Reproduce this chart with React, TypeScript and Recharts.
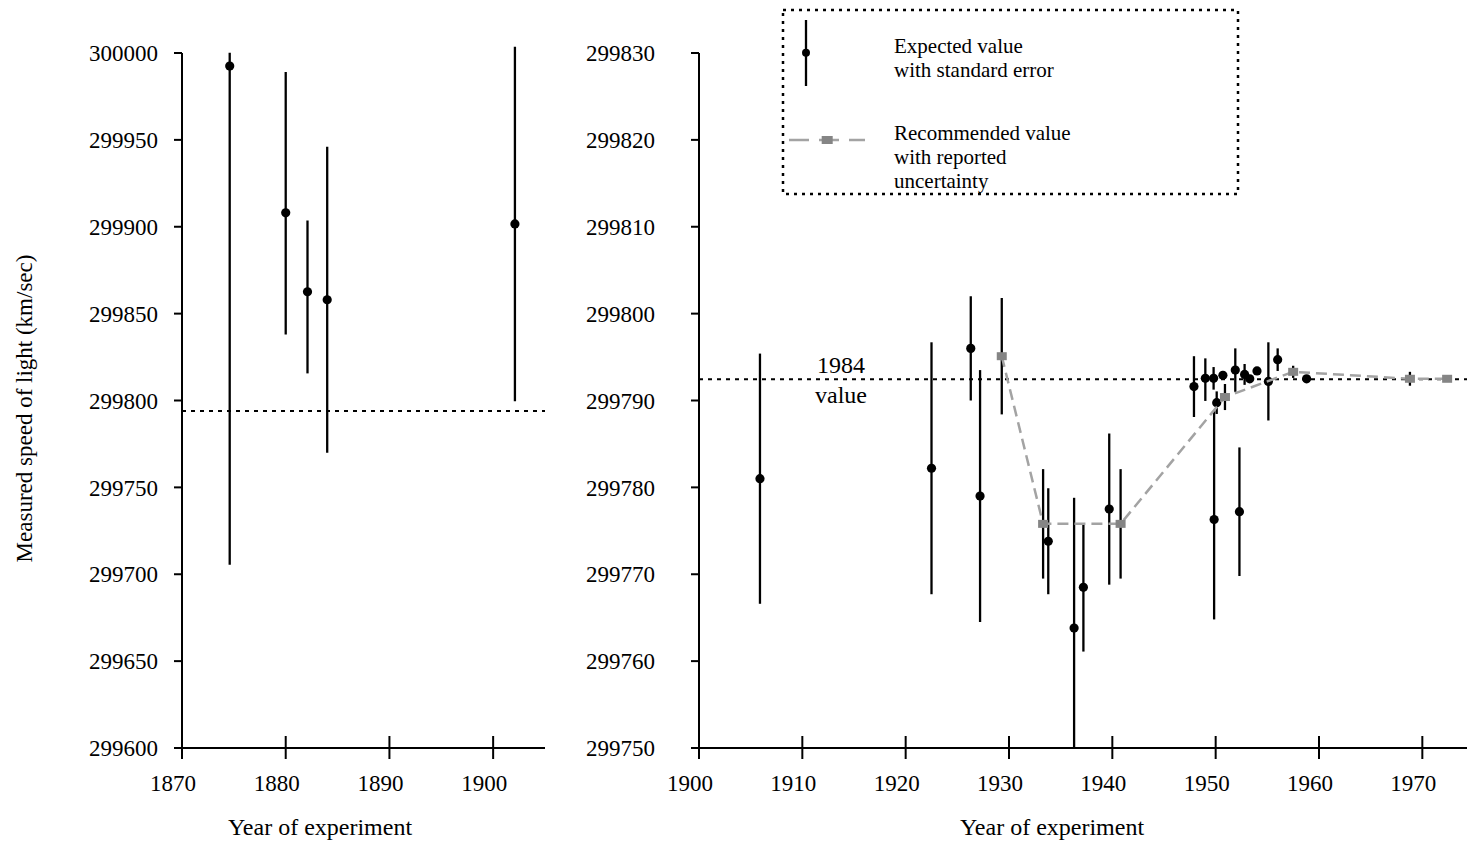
import React from 'react';
import { ScatterChart, Scatter, XAxis, YAxis, ErrorBar, ReferenceLine } from 'recharts';

const FONT = '"Liberation Serif", "Times New Roman", Times, serif';

// ---------- Left panel (1870-1905) ----------
const earlyYears = [1874.6, 1880.0, 1882.1, 1884.0, 1902.1];
const earlyValues = [299992.5, 299908, 299862.6, 299858, 299901.6];
const earlyErrLow = [287, 70, 47, 88, 102];
const earlyErrHigh = [7.7, 81, 41, 88, 102];
const earlyTicksX = [1870, 1880, 1890, 1900];
const earlyTicksY = [299600, 299650, 299700, 299750, 299800, 299850, 299900, 299950, 300000];
const earlyRef = 299794;

// ---------- Right panel (1900-1975) : expected values with standard error ----------
const laterYears = [1905.9, 1922.5, 1926.3, 1927.2, 1933.8, 1936.3, 1937.2, 1939.7, 1947.9, 1949.0, 1949.8, 1949.85, 1950.1, 1950.7, 1951.9, 1952.3, 1952.8, 1953.3, 1954.0, 1955.1, 1956.0, 1958.8];
const laterValues = [299781.0, 299782.2, 299796.0, 299779.0, 299773.8, 299763.8, 299768.5, 299777.5, 299791.6, 299792.55, 299792.55, 299776.3, 299789.75, 299792.9, 299793.5, 299777.2, 299793.0, 299792.5, 299793.4, 299792.2, 299794.7, 299792.5];
const laterErrLow = [14.4, 14.5, 6, 14.5, 6.1, 13.8, 7.4, 8.7, 3.5, 2.6, 1.3, 11.5, 1.3, 0.5, 2.5, 7.4, 1.2, 0.3, 0.3, 4.5, 1.3, 0.3];
const laterErrHigh = [14.4, 14.5, 6, 14.5, 6.1, 15, 7.4, 8.7, 3.5, 2.3, 1.3, 12.5, 1.3, 0.5, 2.5, 7.4, 1.2, 0.3, 0.3, 4.5, 1.3, 0.3];

// ---------- Right panel : recommended values with reported uncertainty ----------
const recYears = [1929.3, 1933.3, 1940.8, 1950.9, 1957.5, 1968.8, 1972.4];
const recValues = [299795.1, 299775.8, 299775.8, 299790.4, 299793.3, 299792.5, 299792.5];
const recErr = [6.7, 6.3, 6.3, 1.5, 0.7, 0.8, 0.2];

const laterTicksX = [1900, 1910, 1920, 1930, 1940, 1950, 1960, 1970];
const laterTicksY = [299750, 299760, 299770, 299780, 299790, 299800, 299810, 299820, 299830];
const value1984 = 299792.458;

const earlyData = earlyYears.map((x, i) => ({ x, y: earlyValues[i], err: [earlyErrLow[i], earlyErrHigh[i]] }));
const laterData = laterYears.map((x, i) => ({ x, y: laterValues[i], err: [laterErrLow[i], laterErrHigh[i]] }));
const recData = recYears.map((x, i) => ({ x, y: recValues[i], err: recErr[i] }));

const blackDot = (p: any) => <circle cx={p.cx} cy={p.cy} r={4.6} fill="#000" />;
const graySquare = (p: any) => <rect x={p.cx - 5} y={p.cy - 4} width={10} height={8} fill="#858585" />;

const CrossTick = (p: any) => {
  const { x, y, payload } = p;
  return (
    <g>
      <line x1={x} x2={x} y1={y - 12} y2={y + 11} stroke="#000" strokeWidth={2} />
      <text x={x - 9} y={y + 43} textAnchor="middle" fill="#000" fontSize={23} fontFamily={FONT}>
        {payload.value}
      </text>
    </g>
  );
};

const xTitle = (dx: number) => (p: any) => {
  const vb = p.viewBox || {};
  return (
    <text x={vb.x + dx} y={vb.y + 87} textAnchor="middle" fill="#000" fontSize={24} fontFamily={FONT}>
      Year of experiment
    </text>
  );
};

const yTitle = (p: any) => {
  const vb = p.viewBox || {};
  const cx = (vb.x || 0) + 16;
  const cy = vb.y + vb.height / 2 + 8;
  return (
    <text x={cx} y={cy} transform={`rotate(-90 ${cx} ${cy})`} textAnchor="middle" dominantBaseline="central" fill="#000" fontSize={23} fontFamily={FONT}>
      Measured speed of light (km/sec)
    </text>
  );
};

const label1984 = (p: any) => {
  const vb = p.viewBox || {};
  const x = vb.x + 142;
  return (
    <g>
      <text x={x} y={vb.y - 6} textAnchor="middle" fill="#000" fontSize={24} fontFamily={FONT}>1984</text>
      <text x={x} y={vb.y + 24} textAnchor="middle" fill="#000" fontSize={24} fontFamily={FONT}>value</text>
    </g>
  );
};

const axisStyle = { stroke: '#000', strokeWidth: 2 };
const tickStyle = { fill: '#000', fontSize: 23, fontFamily: FONT };

export default function App() {
  return (
    <div style={{ position: 'fixed', left: 0, top: 0, width: 1467, height: 847, overflow: 'hidden', background: '#fff' }}>
      <div style={{ position: 'absolute', left: 8, top: 8 }}>
        <ScatterChart width={560} height={839} margin={{ top: 45, right: 23, bottom: 39, left: 0 }}>
          <XAxis
            type="number"
            dataKey="x"
            domain={[1870, 1905]}
            ticks={earlyTicksX}
            allowDataOverflow
            axisLine={axisStyle}
            tickLine={false}
            tickSize={0}
            tickMargin={0}
            height={60}
            tick={<CrossTick />}
            interval={0}
            label={xTitle(138)}
          />
          <YAxis
            type="number"
            dataKey="y"
            domain={[299600, 300000]}
            ticks={earlyTicksY}
            allowDataOverflow
            width={174}
            axisLine={axisStyle}
            tickLine={axisStyle}
            tickSize={8}
            tickMargin={16}
            tick={tickStyle}
            interval={0}
            label={yTitle}
          />
          <ReferenceLine y={earlyRef} stroke="#000" strokeWidth={2} strokeDasharray="4 5" />
          <Scatter data={earlyData} shape={blackDot} isAnimationActive={false}>
            <ErrorBar dataKey="err" direction="y" width={0} stroke="#000" strokeWidth={2.3} />
          </Scatter>
        </ScatterChart>
      </div>
      <div style={{ position: 'absolute', left: 568, top: 8 }}>
        <ScatterChart width={906} height={839} margin={{ top: 45, right: 0, bottom: 39, left: 0 }}>
          <XAxis
            type="number"
            dataKey="x"
            domain={[1900, 1975]}
            ticks={laterTicksX}
            allowDataOverflow
            axisLine={axisStyle}
            tickLine={false}
            tickSize={0}
            tickMargin={0}
            height={60}
            tick={<CrossTick />}
            interval={0}
            label={xTitle(353)}
          />
          <YAxis
            type="number"
            dataKey="y"
            domain={[299750, 299830]}
            ticks={laterTicksY}
            allowDataOverflow
            width={131}
            axisLine={axisStyle}
            tickLine={axisStyle}
            tickSize={8}
            tickMargin={36}
            tick={tickStyle}
            interval={0}
          />
          <ReferenceLine y={value1984} stroke="#000" strokeWidth={2} strokeDasharray="4 5" label={label1984} />
          <Scatter data={laterData} shape={blackDot} isAnimationActive={false}>
            <ErrorBar dataKey="err" direction="y" width={0} stroke="#000" strokeWidth={2.3} />
          </Scatter>
          <Scatter
            data={recData}
            shape={graySquare}
            line={{ stroke: '#a3a3a3', strokeWidth: 2.5, strokeDasharray: '11 6' }}
            lineType="joint"
            isAnimationActive={false}
          >
            <ErrorBar dataKey="err" direction="y" width={0} stroke="#000" strokeWidth={2.3} />
          </Scatter>
        </ScatterChart>
      </div>
      <svg width={1467} height={847} style={{ position: 'absolute', left: 0, top: 0, pointerEvents: 'none' }}>
        <rect x={783} y={10} width={455} height={184} fill="none" stroke="#000" strokeWidth={2.5} strokeDasharray="3 5" />
        <line x1={806} x2={806} y1={20} y2={86} stroke="#000" strokeWidth={2.3} />
        <circle cx={806} cy={52.7} r={4} fill="#000" />
        <text x={894} y={53} fill="#000" fontSize={21} fontFamily={FONT}>Expected value</text>
        <text x={894} y={77} fill="#000" fontSize={21} fontFamily={FONT}>with standard error</text>
        <line x1={789} x2={865} y1={140} y2={140} stroke="#a3a3a3" strokeWidth={2.5} strokeDasharray="20 10" />
        <rect x={821.7} y={136} width={11} height={8} fill="#858585" />
        <text x={894} y={139.5} fill="#000" fontSize={21} fontFamily={FONT}>Recommended value</text>
        <text x={894} y={163.5} fill="#000" fontSize={21} fontFamily={FONT}>with reported</text>
        <text x={894} y={187.5} fill="#000" fontSize={21} fontFamily={FONT}>uncertainty</text>
      </svg>
    </div>
  );
}
